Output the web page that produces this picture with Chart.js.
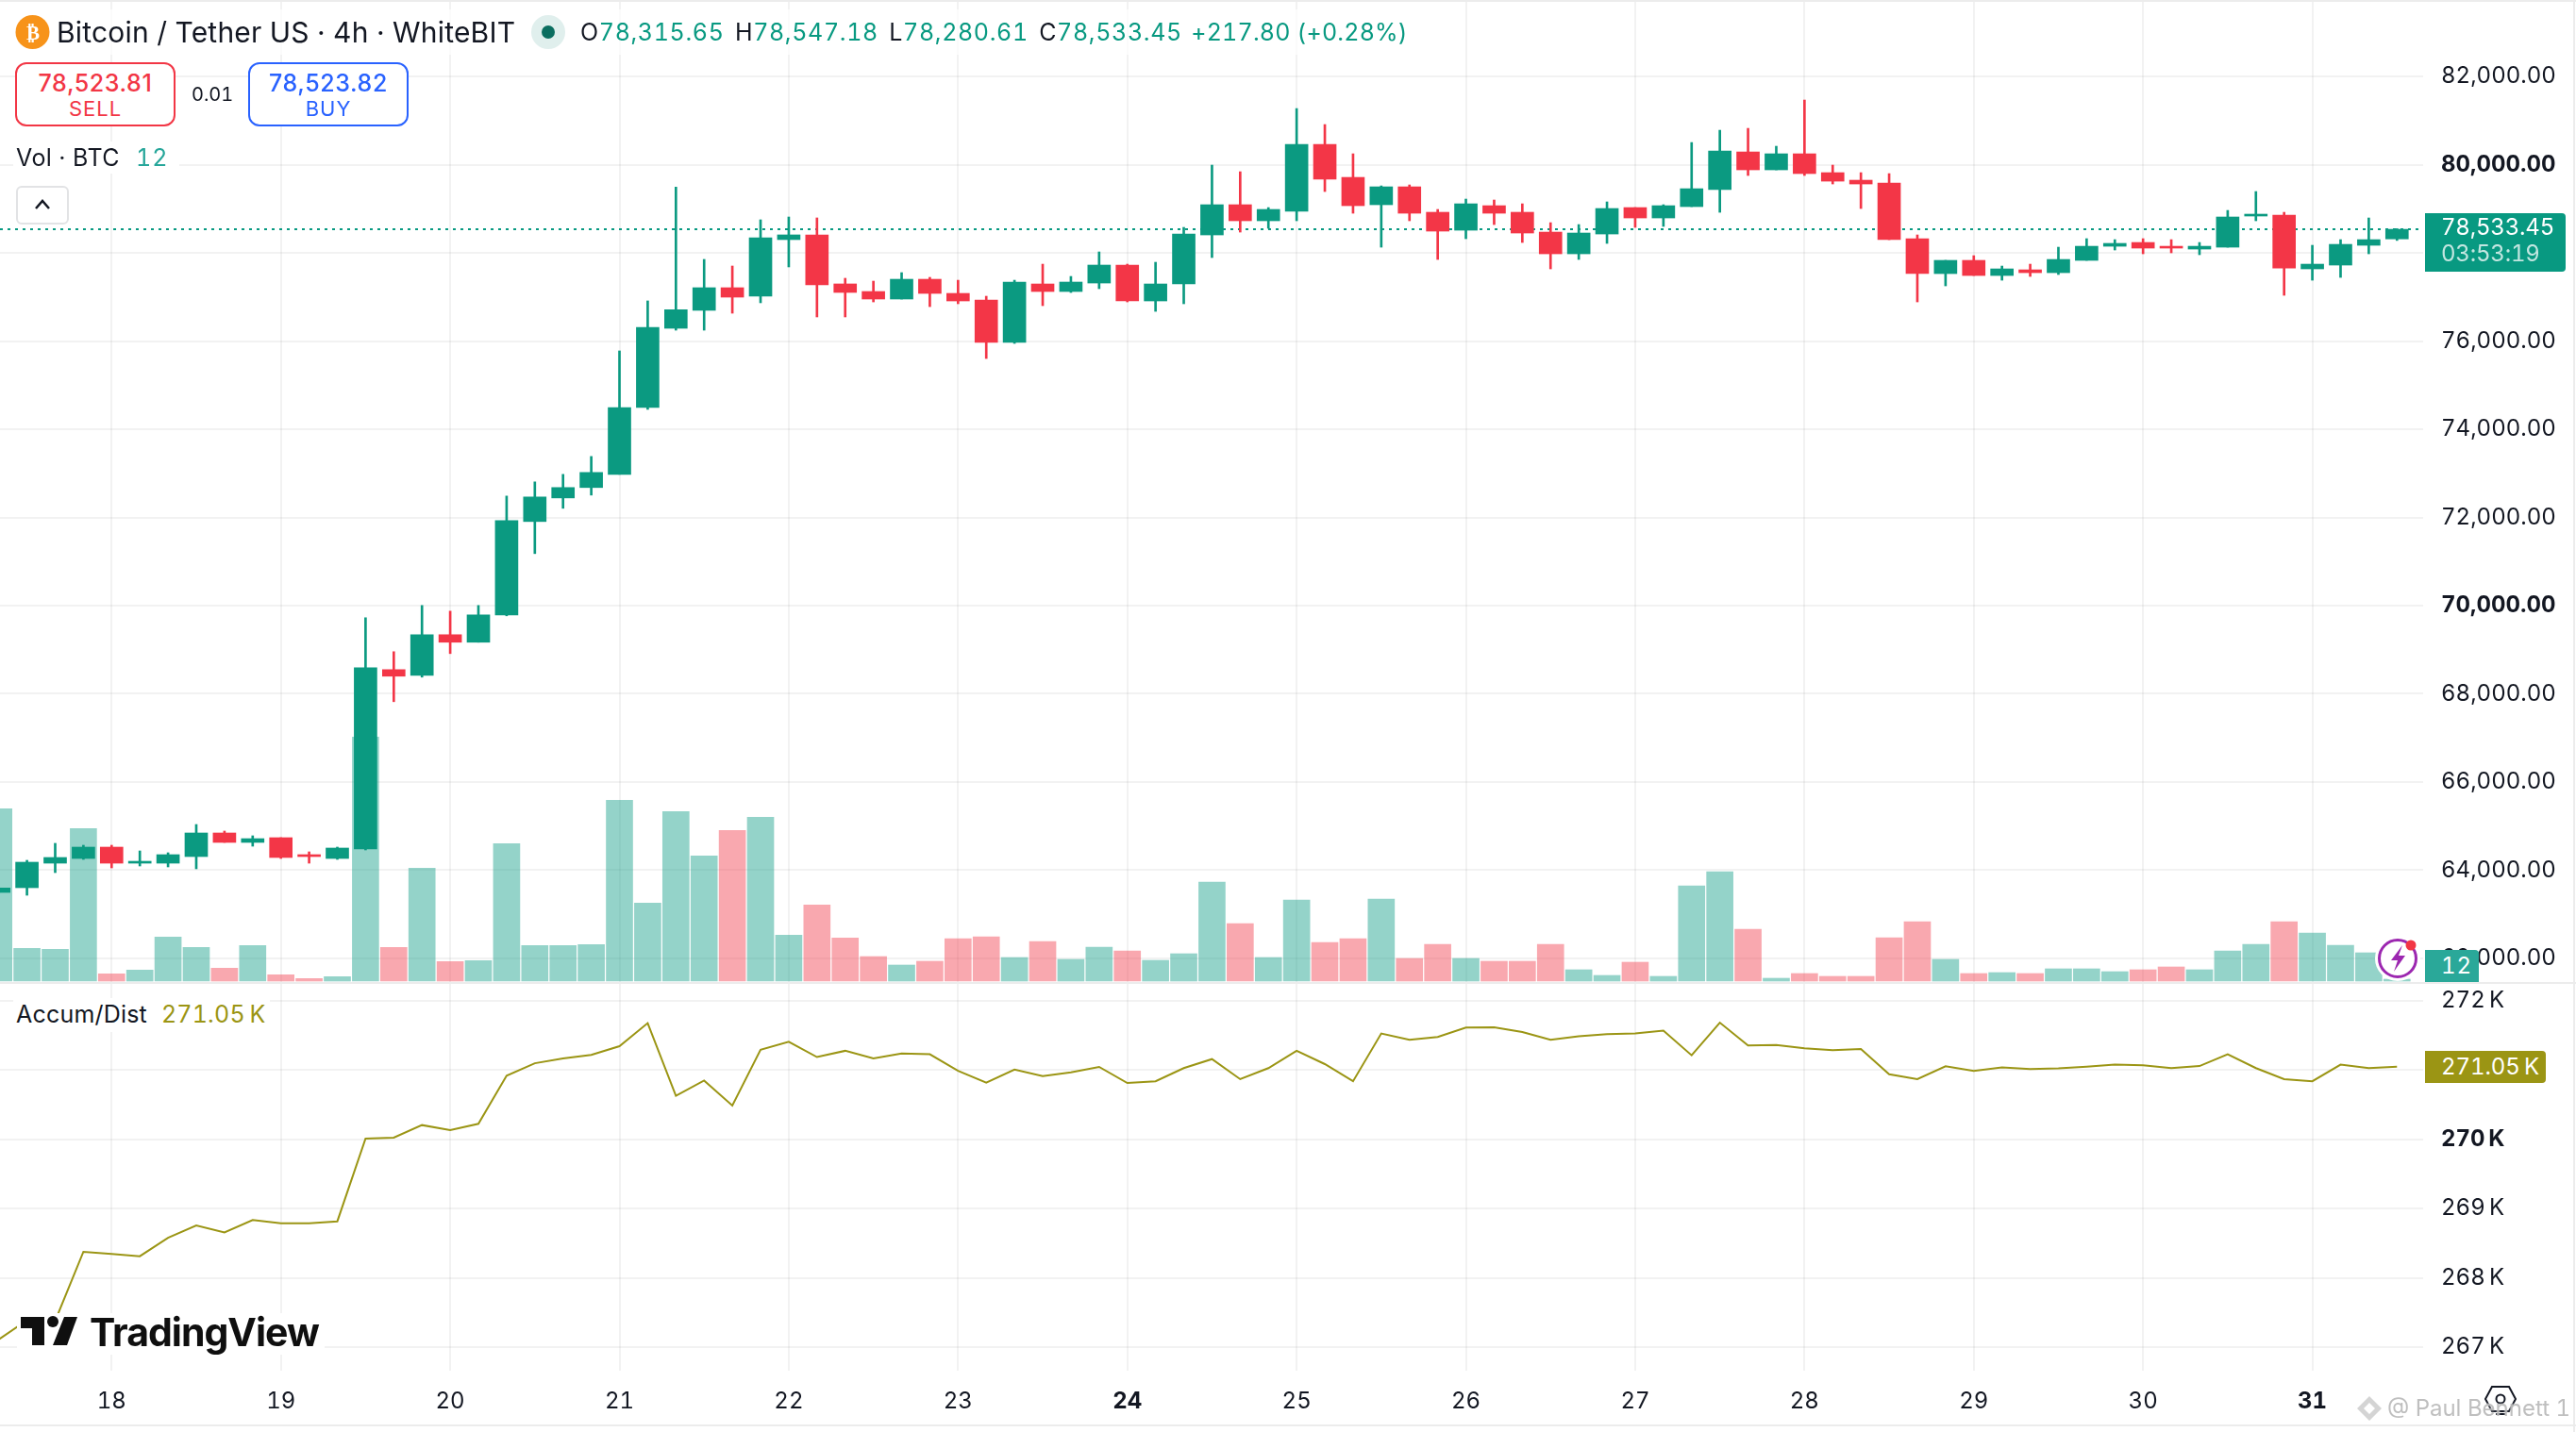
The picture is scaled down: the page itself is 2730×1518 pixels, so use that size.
<!DOCTYPE html>
<html>
<head>
<meta charset="utf-8">
<title>BTCUSDT 4h</title>
<script src="https://cdn.jsdelivr.net/npm/chart.js@4/dist/chart.umd.min.js"></script>
<style>
html, body { margin: 0; padding: 0; background: #fff; }
body { width: 2730px; height: 1518px; position: relative; overflow: hidden; font-family: Inter, sans-serif; color: #131722; font-variant-numeric: tabular-nums; }
canvas { position: absolute; left: 0; }
.t { position: absolute; white-space: nowrap; line-height: 1; }
.g { color: #089981; }
.hline { position: absolute; left: 0; width: 2730px; height: 2px; background: #ececec; }
.box { position: absolute; box-sizing: border-box; background: #fff; border: 2px solid; border-radius: 12px; text-align: center; }
</style>
</head>
<body>
<canvas id="priceChart" width="2730" height="1041" style="top:0"></canvas>
<canvas id="accumChart" width="2730" height="477" style="top:1041px"></canvas>

<div class="hline" style="top:0"></div>
<div class="hline" style="top:1041px"></div>
<div class="hline" style="top:1510px"></div>
<div style="position:absolute;left:2727px;top:0;width:2px;height:1518px;background:#ececec"></div>

<!-- header -->
<div style="position:absolute;left:14px;top:10px;width:1480px;height:48px;background:rgba(255,255,255,.65)"></div>
<svg style="position:absolute;left:0;top:0" width="620" height="70">
  <circle cx="34.5" cy="34" r="18" fill="#f7931a"/>
  <circle cx="581" cy="34" r="18" fill="#e0efed"/>
  <circle cx="581" cy="34" r="7" fill="#0b6e60"/>
</svg>
<div class="t" style="left:26px;top:23px;width:18px;text-align:center;font:700 21px 'DejaVu Sans';color:#fff">₿</div>
<div class="t" style="left:60px;top:19px;font-size:30px;letter-spacing:.2px">Bitcoin / Tether US · 4h · WhiteBIT</div>
<div class="t g" style="left:615px;top:22px;font-size:25px;letter-spacing:.65px"><span style="color:#131722">O</span>78,315.65 <span style="color:#131722;margin-left:4px">H</span>78,547.18 <span style="color:#131722;margin-left:4px">L</span>78,280.61 <span style="color:#131722;margin-left:4px">C</span>78,533.45 <span style="margin-left:2px;letter-spacing:.2px">+217.80 (+0.28%)</span></div>

<!-- sell / buy -->
<div class="box" style="left:16px;top:66px;width:170px;height:68px;border-color:#f23645;color:#f23645">
  <div style="font:500 25px/28px Inter;margin-top:6px;letter-spacing:.6px">78,523.81</div>
  <div style="font:400 22px/24px Inter;margin-top:1px;letter-spacing:1px">SELL</div>
</div>
<div class="t" style="left:203px;top:90px;font-size:20px">0.01</div>
<div class="box" style="left:263px;top:66px;width:170px;height:68px;border-color:#2962ff;color:#2962ff">
  <div style="font:500 25px/28px Inter;margin-top:6px;letter-spacing:.6px">78,523.82</div>
  <div style="font:400 22px/24px Inter;margin-top:1px;letter-spacing:1px">BUY</div>
</div>

<!-- volume legend -->
<div style="position:absolute;left:14px;top:150px;width:176px;height:34px;background:#fff"></div>
<div class="t" style="left:17px;top:155px;font-size:25px;letter-spacing:.4px">Vol · BTC <span style="color:#26a69a;margin-left:10px;letter-spacing:1px">12</span></div>
<div style="position:absolute;box-sizing:border-box;left:17px;top:197px;width:56px;height:41px;border:2px solid #e2e3e5;border-radius:6px;background:#fff"></div>
<svg style="position:absolute;left:36px;top:208px" width="18" height="18"><path d="M2 13 L9 5 L16 13" fill="none" stroke="#131722" stroke-width="2.5"/></svg>

<!-- price tag -->
<div style="position:absolute;left:2570px;top:226px;width:149px;height:62px;background:#089981;border-radius:0 4px 4px 0"></div>
<div class="t" style="left:2587px;top:229px;font-size:24px;color:#fff;letter-spacing:-.2px">78,533.45</div>
<div class="t" style="left:2587px;top:257px;font-size:24px;color:#c2e6e0;letter-spacing:-.2px">03:53:19</div>

<!-- volume tag and alert icon -->
<div style="position:absolute;left:2570px;top:1007px;width:57px;height:34px;background:#2aa899;border-radius:0 4px 0 0"></div>
<div class="t" style="left:2587px;top:1012px;font-size:24px;color:#fff;letter-spacing:1px">12</div>
<svg style="position:absolute;left:2515px;top:990px" width="56" height="52">
  <circle cx="26" cy="26" r="20" fill="#fff" stroke="#fff" stroke-width="8"/>
  <circle cx="26" cy="26" r="19.5" fill="#fff" stroke="#9c27b0" stroke-width="3"/>
  <path d="M31 12 L19 28 L26 28 L22 40 L34 23 L27 23 Z" fill="#9c27b0"/>
  <circle cx="40" cy="12" r="5.5" fill="#f23645"/>
</svg>

<!-- accum legend and tag -->
<div style="position:absolute;left:14px;top:1058px;width:272px;height:36px;background:#fff"></div>
<div class="t" style="left:17px;top:1063px;font-size:25px;letter-spacing:.2px">Accum/Dist <span style="color:#9b9514;margin-left:8px">271.05&#8201;K</span></div>
<div style="position:absolute;left:2570px;top:1114px;width:128px;height:34px;background:#9b9514;border-radius:0 4px 4px 0"></div>
<div class="t" style="left:2587px;top:1119px;font-size:24px;color:#fff;letter-spacing:-.1px">271.05&#8201;K</div>

<!-- logo -->
<div style="position:absolute;left:18px;top:1392px;width:326px;height:44px;background:#fff"></div>
<svg style="position:absolute;left:18px;top:1390px" width="70" height="40">
  <path d="M4 6 H29 V36 H16 V18 H4 Z" fill="#0f0f0f"/>
  <circle cx="38" cy="11" r="6" fill="#0f0f0f"/>
  <path d="M50 6 H64 L53 36 H38 Z" fill="#0f0f0f"/>
</svg>
<div class="t" style="left:95px;top:1387px;font:700 41px Inter;letter-spacing:-1px;color:#0f0f0f">TradingView</div>

<!-- settings icon and watermark -->
<svg style="position:absolute;left:2632px;top:1466px" width="36" height="36"><path d="M9 4 H27 L34 17 L27 30 H9 L2 17 Z" fill="none" stroke="#131722" stroke-width="2"/><circle cx="18" cy="17" r="4.5" fill="none" stroke="#131722" stroke-width="2"/><path d="M13 33 H23" stroke="#131722" stroke-width="2"/></svg>
<svg style="position:absolute;left:2496px;top:1478px" width="30" height="30"><path d="M15 2 L28 15 L15 28 L2 15 Z M15 9 L21 15 L15 21 L9 15 Z" fill="#d4d4d4" fill-rule="evenodd"/></svg>
<div class="t" style="left:2530px;top:1481px;font-size:24px;color:rgba(170,170,170,.75);text-shadow:0 0 2px #fff">@ Paul Bennett 1</div>

<script>
// first candle sits 4 bars before the 18th 00:00
var firstIndex = -4;

var opens = [63497,63604,64160,64267,64524,64160,64160,64310,64845,64631,64738,64353,64267,64481,68549,68421,69341,69170,69790,71907,72442,72678,72977,74493,76289,76696,77209,77017,78300,78407,77295,77123,76952,77401,77080,76930,75968,77294,77123,77315,77722,76909,77294,78406,79091,78727,78941,80459,79711,79091,79497,78920,78513,79069,78920,78470,77978,78427,79026,78791,79048,79433,80288,79882,80246,79818,79647,79582,78320,77529,77829,77486,77615,77550,77829,78149,78235,78149,78085,78128,78834,78855,77636,77722,78171,78315.65];
var highs = [63650,64225,64610,64567,64567,64438,64396,65037,64888,64781,64738,64417,64524,69726,68956,70004,69875,70004,72485,72806,72977,73383,75776,76910,79491,77851,77701,78749,78813,78792,77423,77358,77551,77444,77379,77016,77379,77743,77465,78021,77743,77786,78577,79989,79839,79026,81272,80909,80246,79518,79540,78984,79219,79198,79112,78684,78641,79155,79026,79091,80502,80780,80823,80417,81465,79989,79818,79796,78406,77829,77936,77700,77743,78128,78321,78299,78321,78299,78235,78962,79390,78919,78171,78299,78791,78547.18];
var lows = [63450,63433,63946,64246,64053,64096,64075,64032,64631,64545,64267,64160,64246,64460,67822,68378,68913,69170,69769,71180,72207,72506,72977,74450,76246,76246,76631,76867,77680,76546,76546,76887,76952,76780,76845,75604,75946,76802,77101,77187,76887,76673,76845,77893,78470,78556,78727,79390,78898,78128,78727,77850,78320,78641,78235,77636,77850,78214,78577,78599,79048,78919,79754,79882,79754,79561,79005,78299,76887,77251,77486,77379,77465,77508,77829,78064,77978,78000,77957,78128,78727,77037,77379,77443,77978,78280.61];
var closes = [63597,64182,64289,64524,64160,64203,64353,64845,64631,64716,64289,64310,64503,68592,68400,69341,69170,69790,71929,72464,72678,73020,74493,76311,76710,77209,76995,78343,78407,77273,77102,76952,77401,77080,76909,75968,77337,77123,77337,77722,76909,77294,78427,79091,78727,78984,80459,79668,79069,79497,78898,78492,79112,78898,78449,77978,78449,79005,78791,79069,79454,80310,79882,80246,79797,79625,79561,78299,77529,77829,77486,77636,77550,77850,78149,78214,78107,78107,78149,78813,78877,77657,77743,78192,78299,78533.45];

var volume = [1096,208,202,970,46,70,280,214,82,226,40,16,28,1552,214,718,124,130,874,226,226,232,1150,496,1078,796,958,1042,292,484,274,156,102,126,270,282,150,252,138,216,192,132,174,630,366,150,516,246,270,522,144,234,144,126,126,234,72,36,120,30,606,696,330,18,48,30,30,276,378,138,48,54,48,78,78,60,72,90,72,192,234,378,306,228,180,12];

var accumK = [267.11,267.39,267.38,268.377,268.345,268.313,268.58,268.758,268.658,268.835,268.79,268.79,268.817,270.011,270.025,270.207,270.134,270.225,270.92,271.10,271.17,271.22,271.346,271.68,270.63,270.85,270.49,271.296,271.41,271.19,271.28,271.17,271.24,271.23,270.99,270.82,271.01,270.915,270.97,271.047,270.815,270.84,271.03,271.16,270.87,271.03,271.28,271.088,270.84,271.53,271.44,271.48,271.615,271.62,271.55,271.44,271.49,271.52,271.53,271.57,271.215,271.687,271.356,271.365,271.315,271.29,271.305,270.94,270.87,271.056,270.99,271.04,271.015,271.025,271.05,271.08,271.07,271.03,271.06,271.23,271.03,270.87,270.84,271.08,271.03,271.05];

var dayTicks = [0,6,12,18,24,30,36,42,48,54,60,66,72,78];
var dayLabels = ["18","19","20","21","22","23","24","25","26","27","28","29","30","31"];
var boldDays = ["24","31"];
var priceTicks = [62000,64000,66000,68000,70000,72000,74000,76000,78000,80000,82000];
var boldPrices = [70000,80000];
var accumTicks = [267,268,269,270,271,272];
var boldAccum = [270];

var upColor = "#0b9a81";
var downColor = "#f33647";
var upVolume = "rgba(8,153,129,0.43)";
var downVolume = "rgba(242,54,69,0.43)";
var gridColor = "rgba(0,0,0,0.05)";
var lineColor = "#9b9514";

var isUp = closes.map(function(c, i) { return c >= opens[i]; });
var candleColors = isUp.map(function(u) { return u ? upColor : downColor; });
var volumeColors = isUp.map(function(u) { return u ? upVolume : downVolume; });

var xMin = -3.956;
var xMax = 81.927;
var lastClose = closes[closes.length - 1];

function pick(fn) {
    return opens.map(function(_, i) { return { x: i + firstIndex, y: fn(i) }; });
}

function barSet(data, colors, width, axis, order) {
    return {
        type: "bar",
        data: data,
        yAxisID: axis,
        backgroundColor: colors,
        borderWidth: 0,
        grouped: false,
        barPercentage: 1,
        categoryPercentage: 1,
        maxBarThickness: width,
        order: order
    };
}

function setTicks(values) {
    return function(scale) {
        scale.ticks = values.map(function(v) { return { value: v }; });
    };
}

// keep the panes edge to edge, chart.js would inset them for the tick labels
function fixWidth(scale) {
    scale.width = 162;
    scale.paddingTop = 0;
    scale.paddingBottom = 0;
}

// tick may be missing when the scale resolves its default font
function tickFont(isBold) {
    return function(c) {
        return { size: 24, weight: c.tick && isBold(c.tick.value) ? "700" : "400" };
    };
}

Chart.defaults.font.family = "Inter, sans-serif";
Chart.defaults.color = "#131722";
Chart.defaults.animation = false;

new Chart(document.getElementById("priceChart"), {
    data: {
        datasets: [
            barSet(pick(function(i) { return [opens[i], closes[i]]; }), candleColors, 24, "y", 1),
            barSet(pick(function(i) { return [lows[i], highs[i]]; }), candleColors, 2, "y", 2),
            {
                type: "line",
                data: [{ x: xMin, y: lastClose }, { x: xMax, y: lastClose }],
                yAxisID: "y",
                borderColor: "#089981",
                borderWidth: 2,
                borderDash: [3, 5],
                pointRadius: 0,
                order: 5
            },
            barSet(pick(function(i) { return volume[i]; }), volumeColors, 28, "yVol", 6)
        ]
    },
    options: {
        responsive: false,
        devicePixelRatio: 1,
        layout: { padding: 0 },
        plugins: { legend: { display: false }, tooltip: { enabled: false } },
        scales: {
            x: {
                type: "linear",
                min: xMin,
                max: xMax,
                offset: false,
                afterBuildTicks: setTicks(dayTicks),
                ticks: { display: false },
                border: { display: false },
                grid: { color: gridColor, lineWidth: 2, drawTicks: false, offset: false }
            },
            y: {
                position: "right",
                min: 61465,
                max: 83733,
                afterBuildTicks: setTicks(priceTicks),
                afterFit: fixWidth,
                border: { display: false },
                grid: { color: gridColor, lineWidth: 2, drawTicks: false },
                ticks: {
                    padding: 19,
                    color: "#131722",
                    font: tickFont(function(v) { return boldPrices.indexOf(v) >= 0; }),
                    callback: function(v) {
                        return v.toLocaleString("en-US", { minimumFractionDigits: 2 });
                    }
                }
            },
            yVol: { display: false, min: -6, max: 6240 }
        }
    }
});

new Chart(document.getElementById("accumChart"), {
    data: {
        datasets: [{
            type: "line",
            data: pick(function(i) { return accumK[i]; }),
            borderColor: lineColor,
            borderWidth: 2,
            pointRadius: 0,
            tension: 0
        }]
    },
    options: {
        responsive: false,
        devicePixelRatio: 1,
        layout: { padding: { top: 2 } },
        plugins: { legend: { display: false }, tooltip: { enabled: false } },
        scales: {
            x: {
                type: "linear",
                min: xMin,
                max: xMax,
                afterBuildTicks: setTicks(dayTicks),
                afterFit: function(scale) { scale.height = 65; },
                border: { display: false },
                grid: { color: gridColor, lineWidth: 2, drawTicks: false },
                ticks: {
                    autoSkip: false,
                    maxRotation: 0,
                    padding: 18,
                    color: "#131722",
                    font: tickFont(function(v) { return boldDays.indexOf(dayLabels[dayTicks.indexOf(v)]) >= 0; }),
                    callback: function(v) { return dayLabels[dayTicks.indexOf(v)]; }
                }
            },
            y: {
                position: "right",
                min: 266.66,
                max: 272.246,
                afterBuildTicks: setTicks(accumTicks),
                afterFit: fixWidth,
                border: { display: false },
                grid: { color: gridColor, lineWidth: 2, drawTicks: false },
                ticks: {
                    padding: 19,
                    color: "#131722",
                    font: tickFont(function(v) { return boldAccum.indexOf(v) >= 0; }),
                    callback: function(v) { return v + "\u2009K"; }
                }
            }
        }
    }
});
</script>
</body>
</html>
